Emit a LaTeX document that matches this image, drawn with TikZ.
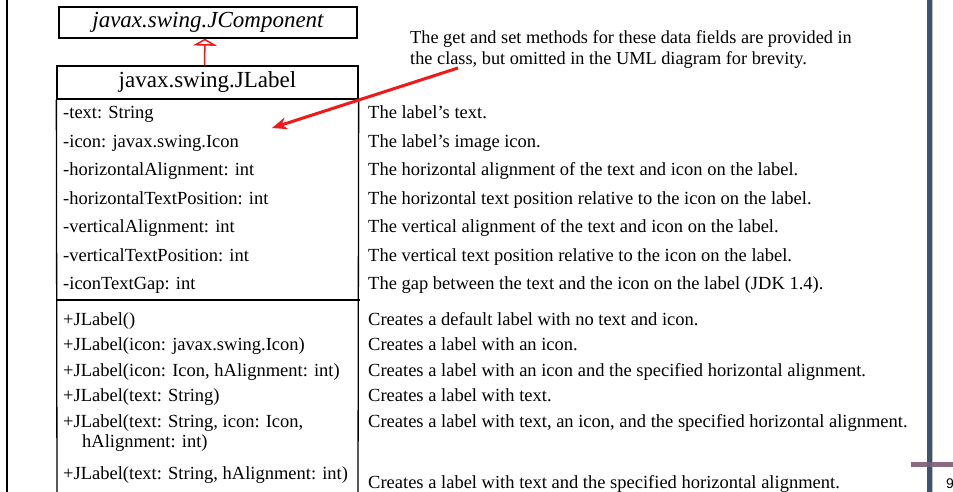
\documentclass[tikz,border=0pt]{standalone}
\usepackage{fontspec}
\setmainfont{Liberation Serif}
\newfontfamily\pagefont{Liberation Sans}
\usetikzlibrary{arrows.meta}
\definecolor{barblue}{HTML}{3B5472}
\definecolor{bartan}{HTML}{C9BBAA}
\definecolor{barmauve}{HTML}{8C6A81}
\definecolor{umlred}{HTML}{F01818}
\tikzset{
  umlbox/.style={draw=black, line width=1.3pt, inner sep=0pt},
  member/.style={anchor=base west, inner sep=0pt, font=\fontsize{18.5}{21}\selectfont},
  desc/.style={anchor=base west, inner sep=0pt, font=\fontsize{18.5}{21}\selectfont},
  gen/.style={draw=umlred, line width=1.5pt, -{Triangle[open, length=7pt, width=24pt]}},
  pointer/.style={draw=umlred, line width=3pt, -{Stealth[length=15pt, width=12pt]}}
}
\begin{document}
\begin{tikzpicture}[x=1pt, y=-1pt]
\useasboundingbox (0,0) rectangle (953,492);

% left page rule
\draw[line width=2pt] (7,0) -- (7,492);

% superclass
\node[umlbox, minimum width=298pt, minimum height=31pt,
      font=\fontsize{23}{26}\selectfont\itshape] (jcomp) at (208,22.5) {javax.swing.JComponent};

% class name compartment
\node[umlbox, minimum width=301pt, minimum height=33pt,
      font=\fontsize{23}{26}\selectfont] (jlabel) at (207.5,82.5) {javax.swing.JLabel};

% body of the class box (continues below the page edge)
\draw[line width=1.3pt] (jlabel.south west) -- (57,500);
\draw[line width=1.3pt] (jlabel.south east) -- (358,500);
\draw[line width=1.3pt] (57,300) -- (360,300);

% inheritance
\draw[gen] ([xshift=-3pt]jlabel.north) -- ([xshift=-3pt]jcomp.south);

% data fields
\node[member] (a1) at (63,119) {-text: String};
\node[member] (a2) at (63,147.4) {-icon: javax.swing.Icon};
\node[member] (a3) at (63,175.8) {-horizontalAlignment: int};
\node[member] (a4) at (63,204.2) {-horizontalTextPosition: int};
\node[member] (a5) at (63,232.6) {-verticalAlignment: int};
\node[member] (a6) at (63,261) {-verticalTextPosition: int};
\node[member] (a7) at (63,289.4) {-iconTextGap: int};

% constructors
\node[member] (m1) at (63,325) {+JLabel()};
\node[member] (m2) at (63,350.5) {+JLabel(icon: javax.swing.Icon)};
\node[member] (m3) at (63,376) {+JLabel(icon: Icon, hAlignment: int)};
\node[member] (m4) at (63,401.5) {+JLabel(text: String)};
\node[member] (m5) at (63,427) {+JLabel(text: String, icon: Icon,};
\node[member] (m5b) at (82,447.5) {hAlignment: int)};
\node[member] (m6) at (63,479) {+JLabel(text: String, hAlignment: int)};

% descriptions
\node[desc] (d1) at (368,119) {The label’s text.};
\node[desc] (d2) at (368,147.4) {The label’s image icon.};
\node[desc] (d3) at (368,175.8) {The horizontal alignment of the text and icon on the label.};
\node[desc] (d4) at (368,204.2) {The horizontal text position relative to the icon on the label.};
\node[desc] (d5) at (368,232.6) {The vertical alignment of the text and icon on the label.};
\node[desc] (d6) at (368,261) {The vertical text position relative to the icon on the label.};
\node[desc] (d7) at (368,289.4) {The gap between the text and the icon on the label (JDK 1.4).};
\node[desc] (e1) at (368,325) {Creates a default label with no text and icon.};
\node[desc] (e2) at (368,350.5) {Creates a label with an icon.};
\node[desc] (e3) at (368,376) {Creates a label with an icon and the specified horizontal alignment.};
\node[desc] (e4) at (368,401.5) {Creates a label with text.};
\node[desc] (e5) at (368,427) {Creates a label with text, an icon, and the specified horizontal alignment.};
\node[desc] (e6) at (368,488) {Creates a label with text and the specified horizontal alignment.};

% note about accessors (base anchor sits on the last line)
\node[anchor=base west, inner sep=0pt, align=left,
      font=\fontsize{18.3}{21}\selectfont] (note) at (410,65)
  {The get and set methods for these data fields are provided in\\
   the class, but omitted in the UML diagram for brevity.};
\coordinate (notefrom) at (458,68);
\coordinate (noteto) at (272,128);
\draw[pointer] (notefrom) -- (noteto);

% slide decoration on the right
\fill[bartan] (926.5,0) rectangle (933,492);
\fill[barblue] (927.3,0) rectangle (932.2,492);
\fill[barmauve] (911,462) rectangle (953,467);
\fill[barmauve!60!barblue] (927.3,462) rectangle (932.2,467);
\node[anchor=base west, inner sep=0pt, font=\pagefont\fontsize{14}{16}\selectfont] (pagenum) at (946,488) {9};
\end{tikzpicture}
\end{document}
